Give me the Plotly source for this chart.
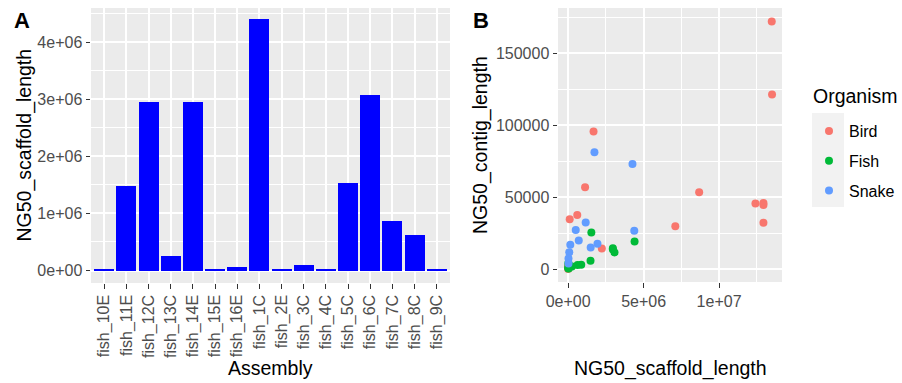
import plotly.graph_objects as go

# ---------------- data ----------------
assemblies = ["fish_10E", "fish_11E", "fish_12C", "fish_13C", "fish_14E", "fish_15E",
              "fish_16E", "fish_1C", "fish_2E", "fish_3C", "fish_4C", "fish_5C",
              "fish_6C", "fish_7C", "fish_8C", "fish_9C"]
scaffold_ng50 = [12000, 1480000, 2960000, 247000, 2960000, 11000,
                 53000, 4400000, 12000, 88000, 35000, 1535000,
                 3070000, 865000, 620000, 11000]

fish_contig_ng50 = [1500, 6000, 14600, 1900, 13800, 4200,
                    1000, 19400, 500, 2200, 3000, 25600,
                    11700, 3200, 3000, 800]

bird_scaffold = [13490000, 13510000, 1680000, 1120000, 8680000, 12410000, 12940000,
                 12940000, 12940000, 7100000, 600000, 100000, 2230000, 0, 20000, 0]
bird_contig = [172200, 121500, 95800, 57000, 53600, 45800, 46000,
               44600, 32400, 29900, 37800, 34700, 14400, 2500, 1000, 200]

snake_scaffold = [1740000, 4260000, 1160000, 500000, 4380000, 700000, 140000,
                  1940000, 1490000, 70000, 20000, 20000]
snake_contig = [81300, 73100, 32500, 27300, 26800, 20000, 17000,
                17700, 15200, 11800, 7500, 4000]

organisms = ["Bird", "Fish", "Snake"]
org_colors = ["#F8766D", "#00BA38", "#619CFF"]
legend_title = "Organism"

y_ticks_a = [0, 1e6, 2e6, 3e6, 4e6]
y_ticklabels_a = ["0e+00", "1e+06", "2e+06", "3e+06", "4e+06"]
y_minor_a = [5e5, 1.5e6, 2.5e6, 3.5e6, 4.5e6]

x_ticks_b = [0, 5e6, 1e7]
x_ticklabels_b = ["0e+00", "5e+06", "1e+07"]
x_minor_b = [2.5e6, 7.5e6, 1.25e7]
y_ticks_b = [0, 50000, 100000, 150000]
y_ticklabels_b = ["0", "50000", "100000", "150000"]
y_minor_b = [25000, 75000, 125000, 175000]

# ---------------- figure ----------------
W, H = 902, 383
FONT = "Liberation Sans, Arial, Helvetica, sans-serif"
TICKCOL = "#4D4D4D"

def px_x(p):
    return p / W

def px_y(p):
    return 1 - p / H

fig = go.Figure()

fig.add_trace(go.Bar(x=assemblies, y=scaffold_ng50, marker=dict(color="#0000FF", line=dict(width=0)),
                     width=0.9, showlegend=False, xaxis="x", yaxis="y"))

series = {
    "Bird": (bird_scaffold, bird_contig),
    "Fish": (scaffold_ng50, fish_contig_ng50),
    "Snake": (snake_scaffold, snake_contig),
}
for org, col in zip(organisms, org_colors):
    xs, ys = series[org]
    fig.add_trace(go.Scatter(x=xs, y=ys, mode="markers", name=org, legendgroup=org,
                             marker=dict(color=col, size=8, line=dict(width=0)),
                             xaxis="x2", yaxis="y2"))

axis_common = dict(showline=False, zeroline=False, gridcolor="white", gridwidth=2,
                   ticks="outside", ticklen=4.5, tickwidth=1.3, tickcolor="#333333",
                   tickfont=dict(family=FONT, size=16, color=TICKCOL), automargin=False)

fig.update_layout(
    width=W, height=H, autosize=False,
    margin=dict(l=0, r=0, t=0, b=0),
    paper_bgcolor="white",
    plot_bgcolor="#EBEBEB",
    bargap=0,
    font=dict(family=FONT),
    xaxis=dict(domain=[px_x(91), px_x(450)], anchor="y", type="category",
               categoryorder="array", categoryarray=assemblies,
               range=[-0.6, 15.6], tickangle=-90, **axis_common),
    yaxis=dict(domain=[px_y(283), px_y(8)], anchor="x", range=[-0.219e6, 4.6e6],
               tickvals=y_ticks_a, ticktext=y_ticklabels_a,
               minor=dict(tickvals=y_minor_a, showgrid=True, gridcolor="white", gridwidth=1, ticks=""),
               **axis_common),
    xaxis2=dict(domain=[px_x(558), px_x(782)], anchor="y2", range=[-0.675e6, 14.17e6],
                tickvals=x_ticks_b, ticktext=x_ticklabels_b,
                minor=dict(tickvals=x_minor_b, showgrid=True, gridcolor="white", gridwidth=1, ticks=""),
                **axis_common),
    yaxis2=dict(domain=[px_y(282), px_y(8)], anchor="x2", range=[-8800, 181500],
                tickvals=y_ticks_b, ticktext=y_ticklabels_b,
                minor=dict(tickvals=y_minor_b, showgrid=True, gridcolor="white", gridwidth=1, ticks=""),
                **axis_common),
    legend=dict(
        font=dict(family=FONT, size=16, color="black"),
        x=px_x(809), y=px_y(114), xanchor="left", yanchor="top",
        bgcolor="rgba(0,0,0,0)", borderwidth=0, tracegroupgap=6,
        itemsizing="trace",
    ),
    shapes=[dict(type="rect", xref="paper", yref="paper",
                 x0=px_x(812), x1=px_x(844), y0=px_y(207), y1=px_y(113),
                 fillcolor="#F2F2F2", line=dict(width=0), layer="below")],
)

ann = []
# panel tags
ann.append(dict(text="<b>A</b>", x=px_x(12), y=px_y(6), xref="paper", yref="paper",
                xanchor="left", yanchor="top", showarrow=False,
                font=dict(family=FONT, size=22, color="black")))
ann.append(dict(text="<b>B</b>", x=px_x(471), y=px_y(6), xref="paper", yref="paper",
                xanchor="left", yanchor="top", showarrow=False,
                font=dict(family=FONT, size=22, color="black")))
# legend title
ann.append(dict(text=legend_title, x=px_x(811), y=px_y(96), xref="paper", yref="paper",
                xanchor="left", yanchor="middle", showarrow=False,
                font=dict(family=FONT, size=19.5, color="black")))
# axis titles
ann.append(dict(text="Assembly", x=px_x(270.5), y=px_y(368), xref="paper", yref="paper",
                xanchor="center", yanchor="middle", showarrow=False,
                font=dict(family=FONT, size=19.5, color="black")))
ann.append(dict(text="NG50_scaffold_length", x=px_x(24), y=px_y(145.5), xref="paper", yref="paper",
                xanchor="center", yanchor="middle", showarrow=False, textangle=-90,
                font=dict(family=FONT, size=19.5, color="black")))
ann.append(dict(text="NG50_scaffold_length", x=px_x(670), y=px_y(368), xref="paper", yref="paper",
                xanchor="center", yanchor="middle", showarrow=False,
                font=dict(family=FONT, size=19.5, color="black")))
ann.append(dict(text="NG50_contig_length", x=px_x(480), y=px_y(145), xref="paper", yref="paper",
                xanchor="center", yanchor="middle", showarrow=False, textangle=-90,
                font=dict(family=FONT, size=19.5, color="black")))
fig.update_layout(annotations=ann)

fig.write_html("out.html")
